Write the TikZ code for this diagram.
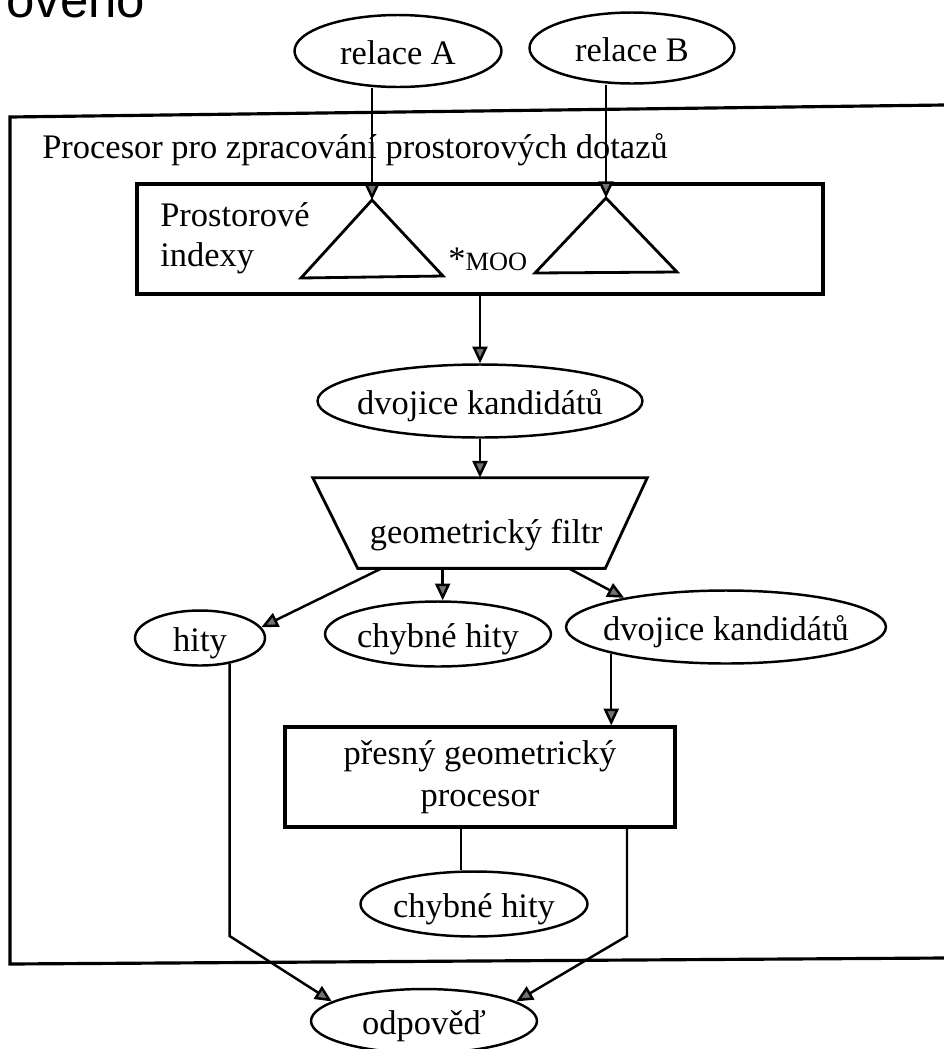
\documentclass[tikz,border=0pt]{standalone}
\usepackage{fontspec}
\setmainfont{Liberation Serif}
\newfontfamily\sansf{Liberation Sans}
\usetikzlibrary{arrows.meta,shapes.geometric,calc}
\begin{document}
\begin{tikzpicture}[x=0.02cm,y=-0.02cm,
  every node/.style={font=\fontsize{19.6pt}{23pt}\selectfont},
  every label/.style={inner sep=0pt,text height=15.9pt,text depth=0pt},
  ln/.style={line width=1.4pt},
  arr/.style={ln,-{Triangle[length=9.5pt,width=8.5pt,fill=black!55]}},
  ell/.style={draw,ellipse,ln,inner sep=0pt},
  box/.style={draw,rectangle,line width=1.8pt,inner sep=0pt},
  txt/.style={anchor=base west,inner sep=0pt},
]
\useasboundingbox (0,0) rectangle (944,1049);

% cut-off heading
\node[txt,font=\sansf\fontsize{29pt}{30pt}\selectfont] (ov) at (6,17) {ověno};

% outer frame
\draw[line width=1.8pt] (944,105) -- (10,117) -- (10,964) -- (944,958);
\node[txt] (title) at (42,158) {Procesor pro zpracování prostorových dotazů};

% inputs
\node[ell,minimum width=4.14cm,minimum height=1.44cm,label=center:{relace A}] (relA) at (398,51) {};
\node[ell,minimum width=4.1cm,minimum height=1.42cm,label=center:{relace B}] (relB) at (632,48) {};

% spatial indexes
\node[box,minimum width=13.72cm,minimum height=2.2cm] (idx) at (480,239) {};
\node[txt] (idxl1) at (160,226) {Prostorové};
\node[txt] (idxl2) at (160,266) {indexy};
\coordinate (triA) at (372,200);
\coordinate (triB) at (606,198);
\draw[line width=1.6pt] (triA) -- (301,278) -- (443,276) -- cycle;
\draw[line width=1.6pt] (triB) -- (535,273) -- (677,272) -- cycle;
\node[txt] (moo) at (448,270) {*{\fontsize{15pt}{15pt}\selectfont MOO}};
\draw[arr] (relA.south -| triA) -- (triA);
\draw[arr] (relB.south -| triB) -- (triB);

% candidates
\node[ell,minimum width=6.5cm,minimum height=1.46cm,label=center:{dvojice kandidátů}] (dk1) at (480,401) {};
\draw[arr] (idx.south) -- (dk1.north);

% geometric filter
\node[minimum width=6.68cm,minimum height=1.8cm,inner sep=0pt] (filt) at (480,523) {};
\draw[line width=1.6pt] (filt.north west) -- (filt.north east) -- ($(filt.south east)+(-42,0)$) -- ($(filt.south west)+(45,0)$) -- cycle;
\node (filttxt) at (486,535) {geometrický filtr};
\draw[arr] (dk1.south) -- (filt.north);

\node[ell,minimum width=2.6cm,minimum height=1.1cm,label=center:{hity}] (hity) at (200,638) {};
\node[ell,minimum width=4.52cm,minimum height=1.3cm,label=center:{chybné hity}] (chyb1) at (438,634) {};
\node[ell,minimum width=6.4cm,minimum height=1.46cm,label=center:{dvojice kandidátů}] (dk2) at (726,627) {};

\coordinate (fb1) at ($(filt.south west)+(69,0)$);
\coordinate (fb2) at ($(filt.south west)+(130,0)$);
\coordinate (fb3) at ($(filt.south west)+(256,0)$);
\draw[arr] (fb1) -- (hity.10);
\draw[arr] (fb2) -- (fb2 |- chyb1.north);
\draw[arr] (fb3) -- (dk2.164);

% exact processor
\node[box,minimum width=7.8cm,minimum height=2cm,align=center,font=\fontsize{19.6pt}{24pt}\selectfont] (pres) at (480,777) {přesný geometrický\\procesor};
\draw[arr] (dk2.193) -- (dk2.193 |- pres.north);

\node[ell,minimum width=4.54cm,minimum height=1.3cm,label=center:{chybné hity}] (chyb2) at (474,904) {};
\coordinate (pc) at ($(pres.south)+(-19,0)$);
\draw[ln] (pc) -- (pc |- chyb2.north);

% answer
\node[ell,minimum width=4.52cm,minimum height=1.28cm,label=center:{odpověď}] (odp) at (424,1021) {};
\coordinate (lowy) at (0,936);
\coordinate (pr) at ($(pres.south)+(147,0)$);
\draw[arr] (pr) -- (pr |- lowy) -- (odp.12);
\draw[arr] (hity.-41.5) -- (hity.-41.5 |- lowy) -- (odp.168);
\end{tikzpicture}
\end{document}
